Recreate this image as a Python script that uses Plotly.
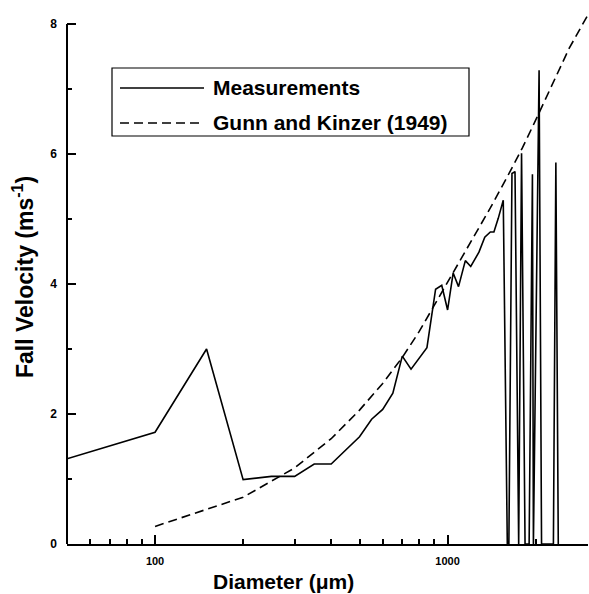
import math
import plotly.graph_objects as go

# ---------------- data ----------------
meas_d = [50, 100, 150, 200, 250, 300, 350, 400, 500, 550, 600, 650, 700, 750, 850,
          910, 955, 1000, 1045, 1090, 1150, 1200, 1280, 1340, 1400, 1440, 1490, 1550,
          1600, 1620, 1660, 1700, 1750, 1790, 1840, 1900, 1950, 1965, 2055, 2095,
          2300, 2345, 2390]
meas_v = [1.31, 1.72, 3.00, 0.99, 1.04, 1.04, 1.23, 1.23, 1.65, 1.92, 2.07, 2.32, 2.89, 2.69, 3.02,
          3.92, 3.98, 3.60, 4.17, 3.96, 4.36, 4.27, 4.49, 4.72, 4.80, 4.80, 5.01, 5.29,
          0.0, 0.0, 5.70, 5.73, 0.0, 6.01, 0.0, 0.0, 5.69, 0.0, 7.29, 0.0,
          0.0, 5.87, 0.0]

gk_d = [100, 200, 300, 400, 500, 600, 700, 800, 900, 1000, 1200, 1400, 1600, 1800,
        2000, 2200, 2400, 2600, 2800, 3000]
gk_v = [0.27, 0.72, 1.17, 1.62, 2.06, 2.47, 2.87, 3.27, 3.67, 4.03, 4.64, 5.17, 5.65, 6.09,
        6.52, 6.92, 7.30, 7.62, 7.88, 8.12]

x_major = [100, 1000]
x_major_text = ["100", "1000"]
x_minor = [60, 70, 80, 90, 200, 300, 400, 500, 600, 700, 800, 900, 2000, 3000]
y_major = [0, 2, 4, 6, 8]
y_minor = [1, 3, 5, 7]

legend_names = ["Measurements", "Gunn and Kinzer (1949)"]
x_title = "Diameter (μm)"
y_title = "Fall Velocity (ms<sup>-1</sup>)"

# ---------------- layout geometry ----------------
W, H = 589, 594
ML, MR, MT, MB = 67, 1, 14, 50
PW = W - ML - MR
PH = H - MT - MB
Y_TOP = 8 * PH / 520.0


def px(xp):
    return (xp - ML) / PW


def py(yp):
    return (H - MB - yp) / PH


FONT = "Liberation Sans, Arial, Helvetica, sans-serif"
DASH = "9px,5px"

fig = go.Figure()
fig.add_trace(go.Scatter(x=meas_d, y=meas_v, mode="lines", name=legend_names[0],
                         line=dict(color="black", width=1.6), showlegend=False))
fig.add_trace(go.Scatter(x=gk_d, y=gk_v, mode="lines", name=legend_names[1],
                         line=dict(color="black", width=1.6, dash=DASH), showlegend=False))

# manual legend box
shapes = [
    dict(type="rect", xref="paper", yref="paper", x0=px(112), x1=px(469), y0=py(136), y1=py(68),
         line=dict(color="black", width=1.2), fillcolor="white", layer="below"),
    dict(type="line", xref="paper", yref="paper", x0=px(120), x1=px(204), y0=py(88), y1=py(88),
         line=dict(color="black", width=1.6)),
    dict(type="line", xref="paper", yref="paper", x0=px(120), x1=px(204), y0=py(123), y1=py(123),
         line=dict(color="black", width=1.6, dash=DASH)),
    # y axis line (from 0 to 8 only)
    dict(type="line", xref="paper", yref="y", x0=0, x1=0, y0=0, y1=8,
         line=dict(color="black", width=2)),
]

annotations = [
    dict(text="<b>%s</b>" % legend_names[0], xref="paper", yref="paper", x=px(211), y=py(88),
         xanchor="left", yanchor="middle", showarrow=False, font=dict(family=FONT, size=21, color="black")),
    dict(text="<b>%s</b>" % legend_names[1], xref="paper", yref="paper", x=px(211), y=py(123),
         xanchor="left", yanchor="middle", showarrow=False, font=dict(family=FONT, size=21, color="black")),
    dict(text="<b>%s</b>" % x_title, xref="paper", yref="paper", x=px(283.5), y=py(581),
         xanchor="center", yanchor="middle", showarrow=False, font=dict(family=FONT, size=21, color="black")),
    dict(text="<b>%s</b>" % y_title, xref="paper", yref="paper", x=px(23), y=py(277),
         xanchor="center", yanchor="middle", textangle=-90, showarrow=False,
         font=dict(family=FONT, size=23, color="black")),
]

fig.update_layout(
    width=W, height=H,
    margin=dict(l=ML, r=MR, t=MT, b=MB, pad=0),
    paper_bgcolor="white", plot_bgcolor="white",
    showlegend=False,
    shapes=shapes,
    annotations=annotations,
    xaxis=dict(
        type="log",
        range=[math.log10(50), math.log10(3020)],
        showgrid=False, zeroline=False,
        showline=True, linecolor="black", linewidth=2,
        ticks="inside", ticklen=9, tickwidth=1.5, tickcolor="black",
        tickmode="array", tickvals=x_major, ticktext=["<b>%s</b>" % t for t in x_major_text],
        tickfont=dict(family=FONT, size=11, color="black"),
        ticklabelstandoff=6,
        minor=dict(tickmode="array", tickvals=x_minor, ticks="inside", ticklen=5,
                   tickwidth=1.5, tickcolor="black", showgrid=False),
    ),
    yaxis=dict(
        range=[0, Y_TOP],
        showgrid=False, zeroline=False,
        showline=False,
        ticks="inside", ticklen=9, tickwidth=1.5, tickcolor="black",
        tickmode="array", tickvals=y_major, ticktext=["<b>%d</b>" % v for v in y_major],
        tickfont=dict(family=FONT, size=12, color="black"),
        ticklabelstandoff=9,
        minor=dict(tickmode="array", tickvals=y_minor, ticks="inside", ticklen=5,
                   tickwidth=1.5, tickcolor="black", showgrid=False),
    ),
)

fig.write_html("out.html")
